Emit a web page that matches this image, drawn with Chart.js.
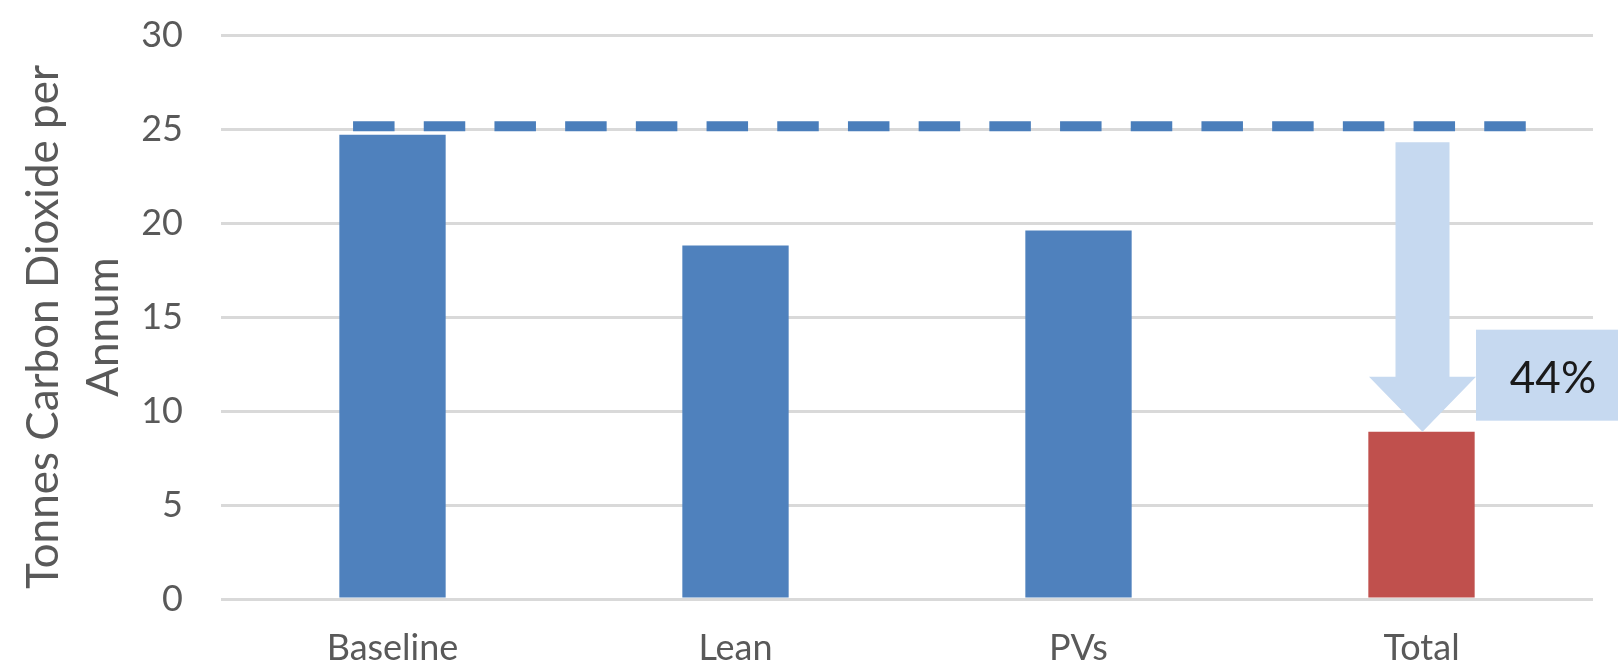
<!DOCTYPE html>
<html>
<head>
<meta charset="utf-8">
<script src="https://cdn.jsdelivr.net/npm/chart.js@4.4.1/dist/chart.umd.min.js"></script>
<style>
  html, body { margin: 0; padding: 0; background: #ffffff; }
  canvas { display: block; }
</style>
</head>
<body>
<canvas id="chart" width="1618" height="666"></canvas>
<script>
// Annual CO2 emissions by scenario
const categories = ['Baseline', 'Lean', 'PVs', 'Total'];
const emissions = [24.7, 18.8, 19.6, 8.9];
const barColors = ['#4F81BD', '#4F81BD', '#4F81BD', '#C0504D'];
const yTicks = [0, 5, 10, 15, 20, 25, 30];
const axisTitle = ['Tonnes Carbon Dioxide per', 'Annum'];

// Dashed reference level and the reduction arrow (start value, end value)
const referenceLevel = [25.15];
const reductionArrow = [24.3, 8.9];
const reductionLabel = ['44%'];

const FONT = 'Lato, "Open Sans", sans-serif';
const GREY = '#595959';

// Two-line rotated y-axis title, sitting slightly below the plot's midpoint
const yTitle = {
  id: 'yTitle',
  afterDraw(chart) {
    const { ctx, chartArea } = chart;
    const cy = (chartArea.top + chartArea.bottom) / 2 + 10;
    ctx.save();
    ctx.translate(44, cy);
    ctx.rotate(-Math.PI / 2);
    ctx.fillStyle = GREY;
    ctx.font = '44px ' + FONT;
    ctx.textAlign = 'center';
    ctx.textBaseline = 'middle';
    axisTitle.forEach((line, i) => ctx.fillText(line, 0, i * 60));
    ctx.restore();
  }
};

const annotations = {
  id: 'annotations',
  afterDatasetsDraw(chart) {
    const { ctx } = chart;
    const x = chart.scales.x;
    const y = chart.scales.y;
    ctx.save();

    // dashed reference line
    const ly = y.getPixelForValue(referenceLevel[0]);
    ctx.strokeStyle = '#4A7EBB';
    ctx.lineWidth = 10;
    ctx.lineCap = 'butt';
    ctx.setLineDash([41.5, 29.2]);
    ctx.beginPath();
    ctx.moveTo(x.getPixelForValue(-0.115), ly);
    ctx.lineTo(x.getPixelForValue(3.31), ly);
    ctx.stroke();
    ctx.setLineDash([]);

    // downward arrow onto the Total bar
    const cx = x.getPixelForValue(3) + 1;
    const top = y.getPixelForValue(reductionArrow[0]);
    const tip = y.getPixelForValue(reductionArrow[1]);
    const headH = 55, headHalf = 53.5, shaftHalf = 27;
    const headTop = tip - headH;
    ctx.fillStyle = '#C6D9F0';
    ctx.beginPath();
    ctx.moveTo(cx - shaftHalf, top);
    ctx.lineTo(cx + shaftHalf, top);
    ctx.lineTo(cx + shaftHalf, headTop);
    ctx.lineTo(cx + headHalf, headTop);
    ctx.lineTo(cx, tip);
    ctx.lineTo(cx - headHalf, headTop);
    ctx.lineTo(cx - shaftHalf, headTop);
    ctx.closePath();
    ctx.fill();

    // percentage label box
    const bx = cx + headHalf;
    const by = headTop - 47;
    ctx.fillStyle = '#C6D9F0';
    ctx.fillRect(bx, by, chart.width - bx, 91);
    ctx.fillStyle = '#1a1a1a';
    ctx.font = '44px ' + FONT;
    ctx.textAlign = 'center';
    ctx.textBaseline = 'middle';
    ctx.fillText(reductionLabel[0], bx + 77, headTop + 2);

    ctx.restore();
  }
};

new Chart(document.getElementById('chart'), {
  type: 'bar',
  data: {
    labels: categories,
    datasets: [{
      data: emissions,
      backgroundColor: barColors,
      borderWidth: 0,
      barPercentage: 0.31,
      categoryPercentage: 1
    }]
  },
  options: {
    responsive: false,
    animation: false,
    devicePixelRatio: 1,
    layout: { padding: { top: 35, right: 25, bottom: 0, left: 0 } },
    plugins: {
      legend: { display: false },
      tooltip: { enabled: false }
    },
    scales: {
      x: {
        grid: { display: false },
        border: { display: false },
        ticks: {
          color: GREY,
          font: { family: FONT, size: 36 },
          padding: 20,
          maxRotation: 0
        },
        afterFit(scale) { scale.height = 67; }
      },
      y: {
        min: 0,
        max: 30,
        afterBuildTicks(axis) { axis.ticks = yTicks.map(v => ({ value: v })); },
        grid: {
          color: '#D9D9D9',
          lineWidth: 3,
          drawTicks: true,
          tickLength: 38,
          tickColor: 'rgba(0,0,0,0)'
        },
        border: { display: false },
        ticks: {
          color: GREY,
          font: { family: FONT, size: 36 },
          padding: 0
        },
        afterFit(scale) { scale.width = 221; }
      }
    }
  },
  plugins: [annotations, yTitle]
});
</script>
</body>
</html>
